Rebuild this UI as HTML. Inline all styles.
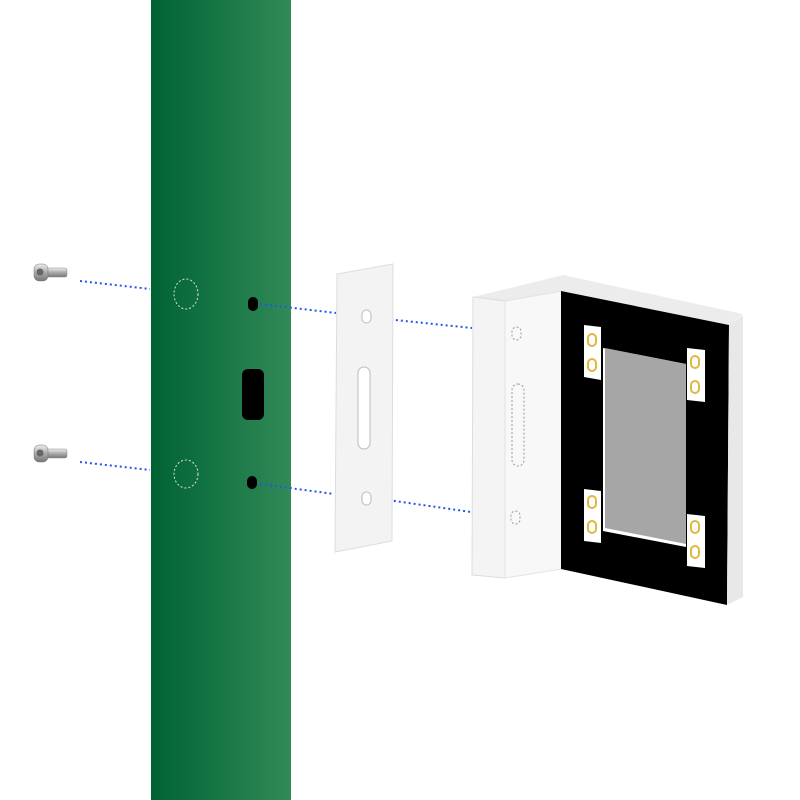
<!DOCTYPE html>
<html><head><meta charset="utf-8"><style>html,body{margin:0;padding:0;background:#fff}svg{display:block}</style></head>
<body>
<svg width="800" height="800" viewBox="0 0 800 800" xmlns="http://www.w3.org/2000/svg">
<defs>
<linearGradient id="g" x1="0" x2="1" y1="0" y2="0">
<stop offset="0" stop-color="#006233"/><stop offset="1" stop-color="#318a58"/>
</linearGradient>
<linearGradient id="sc" x1="0" x2="0" y1="0" y2="1">
<stop offset="0" stop-color="#eee"/><stop offset="0.5" stop-color="#aaa"/><stop offset="1" stop-color="#777"/>
</linearGradient>
</defs>
<rect x="151" y="0" width="140" height="800" fill="url(#g)"/>
<g stroke="#2255ee" stroke-width="2" stroke-dasharray="2,3" fill="none">
<line x1="80" y1="281" x2="150" y2="289"/>
<line x1="80" y1="462" x2="150" y2="470"/>
<line x1="260" y1="304" x2="336" y2="313"/>
<line x1="260" y1="484" x2="334" y2="494"/>
<line x1="376" y1="318" x2="472" y2="328"/>
<line x1="374" y1="498" x2="471" y2="512"/>
</g>
<g fill="none" stroke="#ddd" stroke-width="1" stroke-dasharray="2,2">
<ellipse cx="186" cy="294" rx="12" ry="15"/>
<ellipse cx="186" cy="474" rx="12" ry="14"/>
</g>
<rect x="248" y="297" width="10" height="14" rx="5" fill="#000"/>
<rect x="247" y="476" width="10" height="13" rx="5" fill="#000"/>
<rect x="242" y="369" width="22" height="51" rx="6" fill="#000"/>
<!-- screws -->
<g>
<rect x="44" y="268" width="23" height="9" rx="2" fill="url(#sc)" stroke="#888" stroke-width="0.5"/>
<rect x="34" y="264" width="14" height="17" rx="5" fill="url(#sc)" stroke="#777" stroke-width="0.5"/>
<circle cx="40" cy="272" r="3.5" fill="#666"/>
<rect x="44" y="449" width="23" height="9" rx="2" fill="url(#sc)" stroke="#888" stroke-width="0.5"/>
<rect x="34" y="445" width="14" height="17" rx="5" fill="url(#sc)" stroke="#777" stroke-width="0.5"/>
<circle cx="40" cy="453" r="3.5" fill="#666"/>
</g>
<polygon points="337,274 393,264 392,541 335,552" fill="#f3f3f3" stroke="#ddd" stroke-width="1"/>
<rect x="362" y="310" width="9" height="13" rx="4.5" fill="#fff" stroke="#bbb"/>
<rect x="362" y="492" width="9" height="13" rx="4.5" fill="#fff" stroke="#bbb"/>
<rect x="358" y="367" width="12" height="82" rx="6" fill="#fff" stroke="#bbb"/>
<polygon points="473,297 563,275 743,314 729,325 561,291 505,301" fill="#ececec"/>
<polygon points="473,297 505,301 505,578 472,575" fill="#f4f4f4" stroke="#ddd" stroke-width="1"/>
<polygon points="505,301 562,291 562,569 505,578" fill="#f8f8f8" stroke="#e2e2e2" stroke-width="1"/>
<polygon points="561,291 729,325 727,605 561,569" fill="#000"/>
<polygon points="729,325 743,315 743,597 727,605" fill="#e8e8e8"/>
<g fill="none" stroke="#999" stroke-dasharray="2,2">
<rect x="512" y="327" width="9" height="13" rx="4.5"/>
<rect x="511" y="511" width="9" height="13" rx="4.5"/>
<rect x="512" y="384" width="12" height="82" rx="6"/>
</g>
<polygon points="603,348 686,364 686,547 603,531" fill="#fff"/>
<polygon points="605,348 686,364 686,544 605,528" fill="#a6a6a6"/>
<g fill="#fff">
<polygon points="584,325 601,327 601,380 584,377"/>
<polygon points="687,348 705,350 705,402 687,400"/>
<polygon points="584,489 601,491 601,543 584,541"/>
<polygon points="687,514 705,516 705,568 687,566"/>
</g>
<g fill="none" stroke="#e0b840" stroke-width="2">
<rect x="588" y="334" width="8" height="12" rx="4"/>
<rect x="588" y="359" width="8" height="12" rx="4"/>
<rect x="691" y="356" width="8" height="12" rx="4"/>
<rect x="691" y="381" width="8" height="12" rx="4"/>
<rect x="588" y="496" width="8" height="12" rx="4"/>
<rect x="588" y="521" width="8" height="12" rx="4"/>
<rect x="691" y="521" width="8" height="12" rx="4"/>
<rect x="691" y="546" width="8" height="12" rx="4"/>
</g>
</svg>
</body></html>
